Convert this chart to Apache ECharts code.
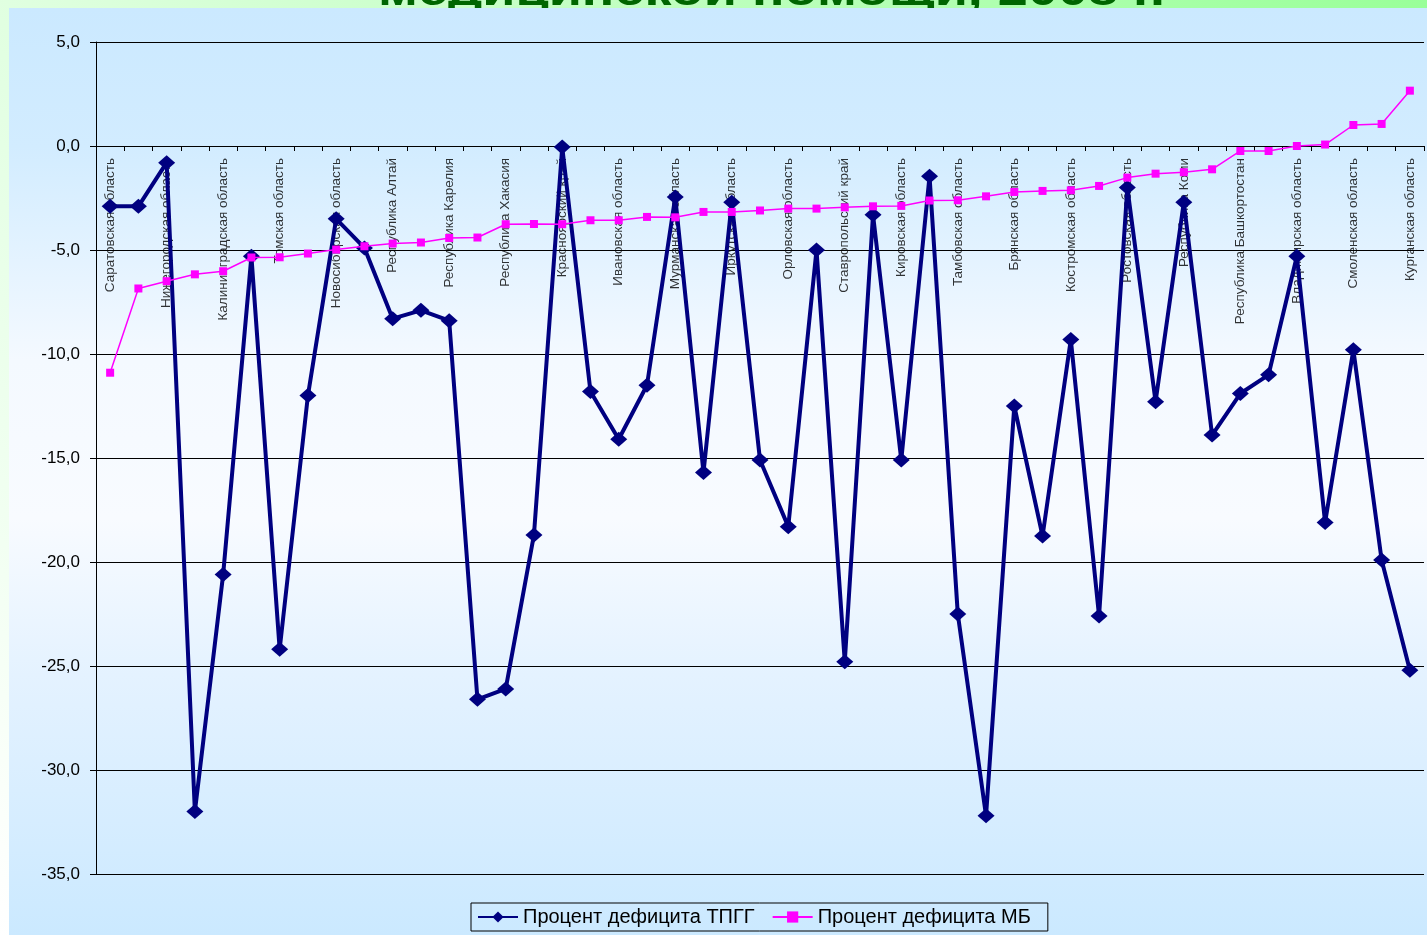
<!DOCTYPE html>
<html>
<head>
<meta charset="utf-8">
<script src="https://cdn.jsdelivr.net/npm/echarts@6/dist/echarts.min.js"></script>
<style>
html,body{margin:0;padding:0;width:1427px;height:935px;overflow:hidden;}
#c{width:1427px;height:935px;}
</style>
</head>
<body>
<div id="c"></div>
<script>
const categories = [
  'Саратовская область', '', 'Нижегородская область', '', 'Калининградская область', '',
  'Томская область', '', 'Новосибирская область', '', 'Республика Алтай', '',
  'Республика Карелия', '', 'Республика Хакасия', '', 'Красноярский край', '',
  'Ивановская область', '', 'Мурманская область', '', 'Иркутская область', '',
  'Орловская область', '', 'Ставропольский край', '', 'Кировская область', '',
  'Тамбовская область', '', 'Брянская область', '', 'Костромская область', '',
  'Ростовская область', '', 'Республика Коми', '', 'Республика Башкортостан', '',
  'Владимирская область', '', 'Смоленская область', '', 'Курганская область'
];
const deficitTPGG = [
  -2.9, -2.9, -0.8, -32.0, -20.6, -5.3, -24.2, -12.0, -3.5, -4.9,
  -8.3, -7.9, -8.4, -26.6, -26.1, -18.7, -0.05, -11.8, -14.1, -11.5,
  -2.45, -15.7, -2.7, -15.1, -18.3, -5.0, -24.8, -3.3, -15.1, -1.45,
  -22.5, -32.2, -12.5, -18.75, -9.3, -22.6, -2.0, -12.3, -2.7, -13.9,
  -11.9, -11.0, -5.3, -18.1, -9.8, -19.9, -25.2
];
const deficitMB = [
  -10.9, -6.85, -6.5, -6.17, -6.02, -5.36, -5.35, -5.17, -4.98, -4.82,
  -4.69, -4.64, -4.42, -4.4, -3.76, -3.75, -3.76, -3.57, -3.57, -3.41,
  -3.43, -3.17, -3.17, -3.1, -3.01, -3.01, -2.95, -2.9, -2.88, -2.62,
  -2.61, -2.42, -2.21, -2.16, -2.13, -1.92, -1.52, -1.33, -1.26, -1.12,
  -0.24, -0.24, 0.0, 0.07, 1.01, 1.06, 2.66
];
const seriesNames = ['Процент дефицита ТПГГ', 'Процент дефицита МБ'];
const titleText = 'медицинской помощи, 2008 г.';

const FONT = '"Liberation Sans", Arial, sans-serif';

// category labels drawn at the zero line (axis crosses at 0)
const labelPoints = categories
  .map((name, i) => ({name: name, value: [i, 0]}))
  .filter(d => d.name !== '');

const chart = echarts.init(document.getElementById('c'), null, {renderer: 'canvas'});
chart.setOption({
  animation: false,
  backgroundColor: {
    type: 'linear', x: 0, y: 1, x2: 1, y2: 0,
    colorStops: [{offset: 0, color: '#ffffff'}, {offset: 1, color: '#99ff99'}]
  },
  graphic: [
    {
      type: 'text', x: 378, y: -7.5, scaleX: 1.2, scaleY: 1, z: -2,
      style: {text: titleText, fill: '#006600', font: 'bold 45px ' + FONT, verticalAlign: 'middle', align: 'left'}
    },
    {
      type: 'rect', z: -1,
      shape: {x: 9, y: 8, width: 1418, height: 927},
      style: {
        fill: {
          type: 'linear', x: 0, y: 0, x2: 0, y2: 1,
          colorStops: [
            {offset: 0, color: '#cbe9ff'},
            {offset: 0.15, color: '#d2ecff'},
            {offset: 0.38, color: '#f4f9ff'},
            {offset: 0.55, color: '#f8fbff'},
            {offset: 0.72, color: '#e4f2ff'},
            {offset: 1, color: '#cbe9ff'}
          ]
        }
      }
    }
  ],
  grid: {left: 96, right: 3, top: 42, bottom: 61, containLabel: false, outerBoundsMode: 'none'},
  legend: {
    data: seriesNames,
    left: 471, top: 903,
    itemWidth: 40, itemHeight: 14, itemGap: 17,
    padding: [4, 17, 4, 6],
    borderColor: '#000', borderWidth: 1, borderRadius: 0,
    textStyle: {fontSize: 20, color: '#000', fontFamily: FONT}
  },
  xAxis: {
    type: 'category',
    data: categories,
    boundaryGap: true,
    axisLine: {onZero: true, lineStyle: {color: '#000', width: 1}},
    axisTick: {show: true, interval: 0, length: 5, lineStyle: {color: '#000'}},
    axisLabel: {show: false},
    splitLine: {show: false}
  },
  yAxis: {
    type: 'value',
    min: -35, max: 5, interval: 5,
    axisLine: {show: true, lineStyle: {color: '#000', width: 1}},
    axisTick: {show: true, length: 6, lineStyle: {color: '#000'}},
    axisLabel: {
      margin: 16, fontSize: 17, color: '#000', fontFamily: FONT,
      formatter: v => v.toFixed(1).replace('.', ',')
    },
    splitLine: {show: true, lineStyle: {color: '#000', width: 1}}
  },
  series: [
    {
      name: 'labels', type: 'scatter', data: labelPoints,
      symbolSize: 0, silent: true, z: 1,
      label: {
        show: true, formatter: '{b}', rotate: 90,
        position: [0, 12], align: 'right', verticalAlign: 'middle',
        fontSize: 13.5, color: '#000', fontFamily: FONT
      }
    },
    {
      name: seriesNames[0], type: 'line', data: deficitTPGG,
      symbol: 'diamond', symbolSize: [17, 15], showAllSymbol: true,
      lineStyle: {color: '#000080', width: 4},
      itemStyle: {color: '#000080'},
      z: 3
    },
    {
      name: seriesNames[1], type: 'line', data: deficitMB,
      symbol: 'rect', symbolSize: 8, showAllSymbol: true,
      lineStyle: {color: '#ff00ff', width: 1.5},
      itemStyle: {color: '#ff00ff'},
      z: 4
    }
  ]
});
</script>
</body>
</html>
